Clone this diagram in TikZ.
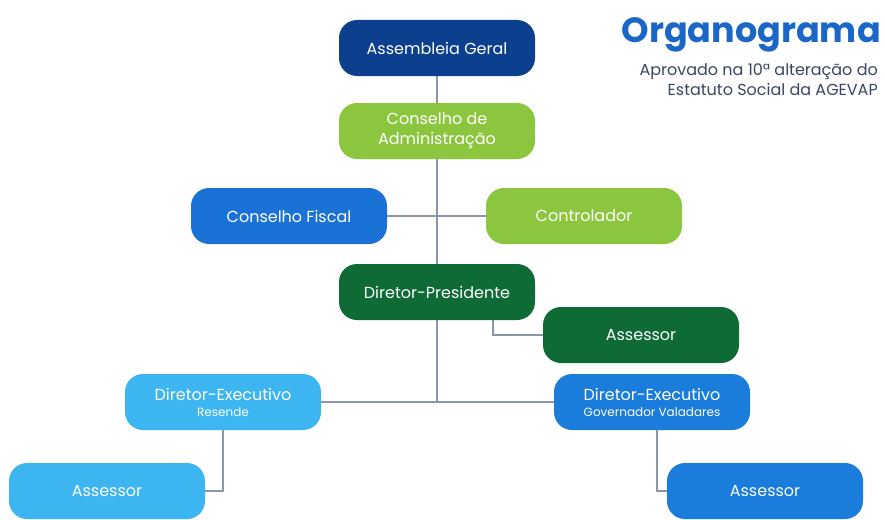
\documentclass[tikz,border=0pt]{standalone}
\usepackage{fontspec}
\setmainfont{Poppins}
\usetikzlibrary{positioning}
\definecolor{navy}{HTML}{0D3F8F}
\definecolor{lime}{HTML}{8CC63E}
\definecolor{fiscalblue}{HTML}{1B72D6}
\definecolor{darkgreen}{HTML}{0E6B36}
\definecolor{execblue}{HTML}{1A7DDB}
\definecolor{skyblue}{HTML}{3DB5F0}
\definecolor{linegray}{HTML}{8A96AA}
\definecolor{titleblue}{HTML}{1A67C7}
\definecolor{subgray}{HTML}{3A4660}
\tikzstyle{box} = [rectangle, rounded corners=18pt, minimum width=196pt, minimum height=56pt, text centered, align=center, text=white, font=\fontsize{16}{20}\selectfont]
\tikzstyle{navybox} = [box, fill=navy]
\tikzstyle{limebox} = [box, fill=lime]
\tikzstyle{fiscalbox} = [box, fill=fiscalblue]
\tikzstyle{greenbox} = [box, fill=darkgreen]
\tikzstyle{execbox} = [box, fill=execblue]
\tikzstyle{skybox} = [box, fill=skyblue]
\tikzstyle{link} = [draw=linegray, line width=1.3pt]
\newcommand{\unidade}[1]{{\fontsize{12}{14}\selectfont #1}}

\begin{document}
\begin{tikzpicture}[node distance=83pt, on grid]

    \useasboundingbox (0,0) rectangle (885pt,-519pt);

    \node (assembleia) [navybox] at (437pt,-48pt) {Assembleia Geral};
    \node (conselhoadm) [limebox, below=of assembleia] {Conselho de\\Administração};
    \node (fiscal) [fiscalbox, below left=85pt and 148pt of conselhoadm] {Conselho Fiscal};
    \node (controlador) [limebox, below right=85pt and 147pt of conselhoadm] {Controlador};
    \node (diretor) [greenbox, below=161pt of conselhoadm] {Diretor-Presidente};
    \node (assessorP) [greenbox, below right=43pt and 204pt of diretor] {Assessor};
    \node (execGV) [execbox, below right=110pt and 215pt of diretor] {Diretor-Executivo\\[-4pt]\unidade{Governador Valadares}};
    \node (execRes) [skybox, below left=110pt and 214pt of diretor] {Diretor-Executivo\\[-4pt]\unidade{Resende}};
    \node (assessorGV) [execbox, below right=89pt and 113pt of execGV] {Assessor};
    \node (assessorRes) [skybox, below left=89pt and 116pt of execRes] {Assessor};

    \node (titulo) [anchor=north east, text=titleblue, font=\fontsize{35}{38}\selectfont\bfseries, inner sep=0pt] at (881pt,-17pt) {Organograma};
    \node (aprovado) [anchor=north east, text=subgray, font=\fontsize{16}{20}\selectfont, align=right, inner sep=0pt] at ([xshift=-3pt,yshift=-12pt]titulo.south east) {Aprovado na 10ª alteração do\\Estatuto Social da AGEVAP};

    \draw [link] (assembleia.south) -- (conselhoadm.north);
    \draw [link] (conselhoadm.south) -- (diretor.north);
    \draw [link] (fiscal.east) -- (controlador.west);
    \draw [link] (diretor.south) -- (diretor.south |- execRes.east);
    \draw [link] (execRes.east) -- (execGV.west);
    \draw [link] ([xshift=56pt]diretor.south) |- (assessorP.west);
    \draw [link] ([xshift=5pt]execGV.south) |- (assessorGV.west);
    \draw [link] (execRes.south) |- (assessorRes.east);

\end{tikzpicture}
\end{document}
